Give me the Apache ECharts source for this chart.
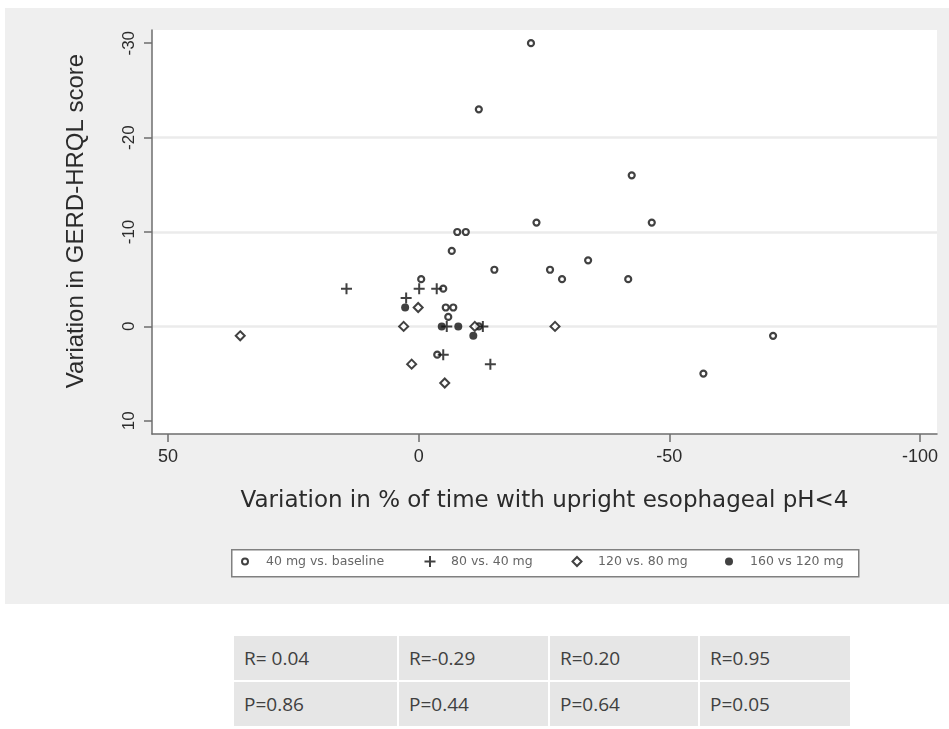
<!DOCTYPE html>
<html>
<head>
<meta charset="utf-8">
<title>GERD-HRQL vs upright pH</title>
<script src="https://cdn.jsdelivr.net/npm/echarts@6/dist/echarts.min.js"></script>
<style>
  html, body { margin: 0; padding: 0; background: #fff; }
  body { width: 949px; height: 729px; position: relative; overflow: hidden; }
  #chart { position: absolute; left: 5px; top: 8px; width: 944px; height: 596px; }
  #stats {
    position: absolute; left: 232px; top: 634px;
    border-collapse: collapse; table-layout: fixed;
    font-family: "Open Sans", sans-serif; font-size: 19px; color: #404040;
  }
  #stats td {
    background: #e6e6e6; border: 2px solid #fff;
    height: 44px; padding: 0 0 0 10px; white-space: nowrap;
  }
</style>
</head>
<body>
<div id="chart"></div>
<table id="stats"></table>
<script>
// tick values
const xTicks = [50, 0, -50, -100];
const yTicks = [-30, -20, -10, 0, 10];

const seriesNames = ['40 mg vs. baseline', '80 vs. 40 mg', '120 vs. 80 mg', '160 vs 120 mg'];

// [variation in % upright time, variation in GERD-HRQL]
const base40 = [
  [-22.4, -30], [-12, -23], [-42.5, -16], [-23.5, -11], [-46.5, -11],
  [-7.7, -10], [-9.4, -10], [-6.6, -8], [-15.1, -6], [-26.2, -6],
  [-33.8, -7], [-28.6, -5], [-41.8, -5], [-0.5, -5], [-4.9, -4],
  [-5.4, -2], [-6.9, -2], [-5.9, -1], [-12, 0], [-3.7, 3],
  [-70.7, 1], [-56.8, 5]
];
const dose80 = [
  [14.4, -4], [2.5, -3], [-0.1, -4], [-3.6, -4], [-5.6, 0],
  [-12.8, 0], [-4.9, 3], [-14.3, 4]
];
const dose120 = [
  [35.6, 1], [3, 0], [0.1, -2], [1.4, 4], [-5.2, 6], [-11.2, 0], [-27.2, 0]
];
const dose160 = [
  [2.7, -2], [-4.6, 0], [-7.9, 0], [-10.9, 1]
];

// correlation table under the chart
const rValues = ['R= 0.04', 'R=-0.29', 'R=0.20', 'R=0.95'];
const pValues = ['P=0.86', 'P=0.44', 'P=0.64', 'P=0.05'];
const colWidths = [165, 151, 150, 152];

const table = document.getElementById('stats');
[rValues, pValues].forEach(row => {
  const tr = document.createElement('tr');
  row.forEach((txt, i) => {
    const td = document.createElement('td');
    td.textContent = txt;
    td.style.width = (colWidths[i] - 12) + 'px';
    tr.appendChild(td);
  });
  table.appendChild(tr);
});

const crossPath = 'path://M4.5,0h2v11h-2zM0,4.5h11v2h-11z';
const diamondPath = 'path://M5,0L10,5L5,10L0,5Z';
const ink = '#111';
const axisGray = '#6e6e6e';

const chart = echarts.init(document.getElementById('chart'));

// legend: one small legend per series so each entry sits where the reference has it
const legendIcons = ['circle', crossPath, diamondPath, 'circle'];
const legendIconH = [6, 11, 9, 8];
const legendLeft = [236, 419.5, 566.5, 720];
const legendFill = ['#fff', ink, '#fff', ink];
const legendBorder = [2, 0, 2, 0];

const option = {
  backgroundColor: '#efefef',
  animation: false,
  grid: {
    left: 147, top: 22, right: 12, bottom: 170,
    show: true, backgroundColor: '#fff', borderWidth: 0
  },
  graphic: [{
    type: 'rect', left: 226, top: 541, z: 0,
    shape: { width: 627, height: 27 },
    style: { fill: '#fff', stroke: '#808080', lineWidth: 1.5 }
  }],
  legend: seriesNames.map((name, i) => ({
    data: [{
      name: name,
      icon: legendIcons[i],
      itemStyle: { color: legendFill[i], borderColor: ink, borderWidth: legendBorder[i] }
    }],
    left: legendLeft[i], top: 547,
    padding: 0, itemGap: 0,
    itemWidth: 32, itemHeight: legendIconH[i],
    symbolKeepAspect: true,
    selectedMode: false,
    textStyle: { fontFamily: 'DejaVu Sans', fontSize: 12.5, color: '#666' }
  })),
  xAxis: {
    type: 'value', inverse: true, min: -103.4, max: 53.2,
    axisLine: { show: true, onZero: false, lineStyle: { color: axisGray, width: 1.5 } },
    axisTick: { show: true, length: 8, customValues: xTicks, lineStyle: { color: axisGray, width: 1.5 } },
    axisLabel: { customValues: xTicks, margin: 14, fontFamily: 'Liberation Sans', fontSize: 18, color: '#2b2b2b' },
    splitLine: { show: false },
    name: 'Variation in % of time with upright esophageal pH<4',
    nameLocation: 'middle', nameGap: 56,
    nameTextStyle: { fontFamily: 'DejaVu Sans', fontSize: 23, color: '#2b2b2b' }
  },
  yAxis: {
    type: 'value', inverse: true, min: -31.4, max: 11.4, splitNumber: 5,
    axisLine: { show: true, onZero: false, lineStyle: { color: axisGray, width: 1.5 } },
    axisTick: { show: true, length: 8, customValues: yTicks, lineStyle: { color: axisGray, width: 1.5 } },
    axisLabel: { customValues: yTicks, rotate: 90, margin: 14, fontFamily: 'Liberation Sans', fontSize: 17, color: '#2b2b2b' },
    splitLine: { show: true, showMinLine: false, showMaxLine: false, lineStyle: { color: '#ebebeb', width: 2.5 } },
    name: 'Variation in GERD-HRQL score',
    nameLocation: 'middle', nameGap: 64,
    nameTextStyle: { fontFamily: 'Liberation Sans', fontSize: 24, color: '#2b2b2b', padding: [0, 0, 0, 22] }
  },
  series: [
    {
      name: seriesNames[0], type: 'scatter', data: base40,
      symbol: 'circle', symbolSize: 6,
      itemStyle: { color: '#fff', borderColor: ink, borderWidth: 2.2 }
    },
    {
      name: seriesNames[1], type: 'scatter', data: dose80,
      symbol: crossPath, symbolSize: 11,
      itemStyle: { color: ink }
    },
    {
      name: seriesNames[2], type: 'scatter', data: dose120,
      symbol: 'diamond', symbolSize: 9,
      itemStyle: { color: '#fff', borderColor: ink, borderWidth: 2 }
    },
    {
      name: seriesNames[3], type: 'scatter', data: dose160,
      symbol: 'circle', symbolSize: 8,
      itemStyle: { color: ink }
    }
  ]
};

chart.setOption(option);
</script>
</body>
</html>
